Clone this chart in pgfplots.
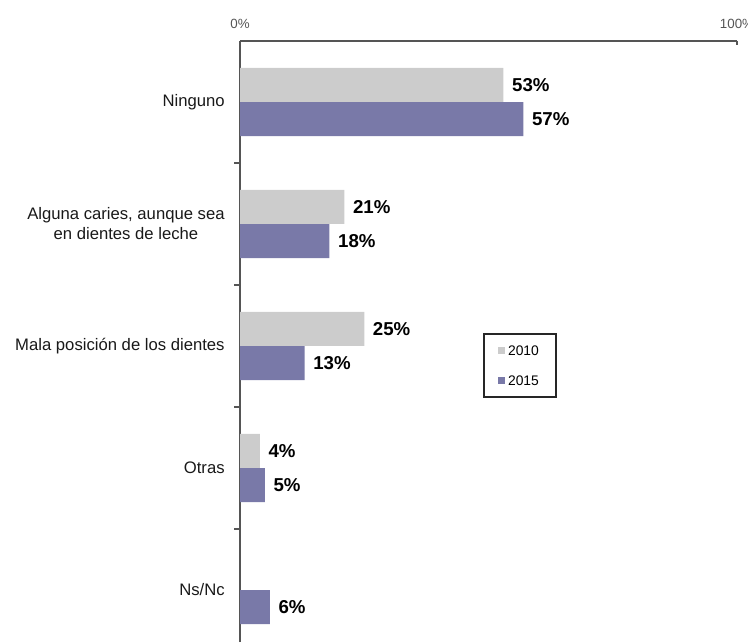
\documentclass[border=0pt]{standalone}
\usepackage{pgfplots}
\pgfplotsset{compat=1.18}
\usepackage{fontspec}
\setmainfont{Liberation Sans}

\definecolor{gris}{RGB}{204,204,204}
\definecolor{lila}{RGB}{121,121,168}
\definecolor{ejes}{RGB}{85,85,85}

\begin{document}
\begin{tikzpicture}
% 1 px of the reference = 0.75pt
\useasboundingbox (0,0) rectangle (561pt,481.5pt);
\begin{axis}[
    at={(180pt,0pt)}, anchor=south west,
    scale only axis,
    width=372.75pt, height=450.75pt,
    xmin=0, xmax=100,
    ymin=-0.426, ymax=4.5,
    axis x line*=top,
    axis y line*=left,
    axis line style={ejes, line width=0.9pt},
    /pgf/number format/assume math mode=true,
    xtick={0,100},
    xticklabels={0\%,100\%},
    xticklabel style={font=\fontsize{10}{12}\selectfont, text=ejes, yshift=6pt},
    x tick style={ejes, line width=0.8pt},
    xtick align=inside,
    major tick length=3pt,
    ytick={0,1,2,3,4},
    yticklabels={Ns/Nc, Otras, Mala posición de los dientes,
        {Alguna caries, aunque sea\\en dientes de leche}, Ninguno},
    y tick style={draw=none},
    yticklabel style={font=\fontsize{12.5}{15}\selectfont, align=center, text=black!90, xshift=-8pt},
    extra y ticks={0.5,1.5,2.5,3.5},
    extra y tick labels={},
    extra y tick style={y tick style={draw=ejes, line width=0.8pt}, major tick length=4.5pt, tick align=outside},
    bar width=25.5pt,
    bar shift=0pt,
    point meta=x,
    nodes near coords={\pgfmathprintnumber{\pgfplotspointmeta}\%},
    nodes near coords style={font=\bfseries\fontsize{14}{16}\selectfont, text=black, anchor=west, xshift=3pt},
    legend style={at={(rel axis cs:0.489,0.514)}, anchor=north west,
        draw=black!85, line width=1.1pt, font=\fontsize{10.4}{12}\selectfont,
        inner xsep=11pt, inner ysep=7pt, row sep=11pt,
        nodes={text depth=0pt}},
    legend cell align=left,
]

\addplot[xbar, fill=gris, draw=none,
    legend image code/.code={\fill[gris] (0pt,-2.6pt) rectangle (5.2pt,2.6pt);}]
    coordinates {(53,4.14) (21,3.14) (25,2.14) (4,1.14)};
\addlegendentry{2010}

\addplot[xbar, fill=lila, draw=none,
    legend image code/.code={\fill[lila] (0pt,-2.6pt) rectangle (5.2pt,2.6pt);}]
    coordinates {(57,3.86) (18,2.86) (13,1.86) (5,0.86) (6,-0.14)};
\addlegendentry{2015}

\end{axis}
\end{tikzpicture}
\end{document}
